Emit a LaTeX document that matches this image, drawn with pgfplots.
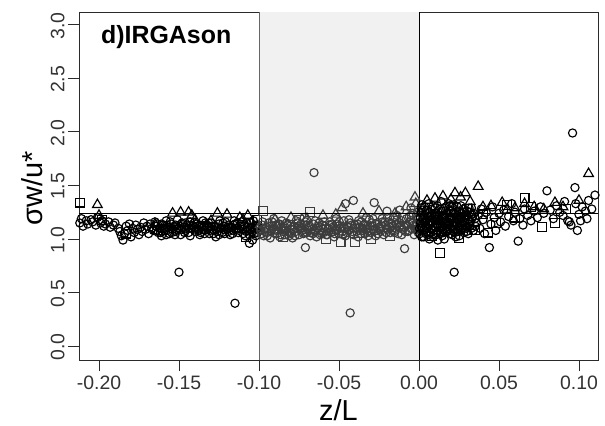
\documentclass[border=0pt]{standalone}
\usepackage{fontspec}
\setmainfont{Liberation Sans}
\usepackage{pgfplots}
\pgfplotsset{compat=1.18}
\usepackage{pgfplotstable}
\definecolor{bandgray}{HTML}{F1F1F1}
\definecolor{midg}{HTML}{3C3C3C}
\definecolor{framec}{HTML}{2A2A2A}

% black circles, x < -0.1
\pgfplotstableread{
x y
-0.212 1.15
-0.211 1.19
-0.210 1.12
-0.208 1.17
-0.207 1.14
-0.205 1.18
-0.204 1.16
-0.202 1.13
-0.201 1.20
-0.199 1.15
-0.198 1.17
-0.197 1.12
-0.196 1.14
-0.194 1.16
-0.193 1.11
-0.191 1.13
-0.190 1.15
-0.188 1.10
-0.187 1.07
-0.186 1.03
-0.185 0.99
-0.184 1.05
-0.183 1.12
-0.182 1.08
-0.181 1.14
-0.180 1.02
-0.179 1.10
-0.178 1.06
-0.177 1.13
-0.176 1.09
-0.175 1.04
-0.174 1.11
-0.173 1.07
-0.172 1.15
-0.171 1.09
-0.170 1.12
-0.169 1.05
-0.168 1.14
-0.167 1.10
-0.166 1.08
-0.165 1.16
-0.164 1.12
-0.163 1.06
-0.162 1.10
-0.161 1.03
-0.160 1.13
-0.159 1.08
-0.158 1.17
-0.157 1.11
-0.156 1.05
-0.155 1.14
-0.154 1.09
-0.153 1.12
-0.152 1.07
-0.151 1.18
-0.150 1.10
-0.149 1.04
-0.148 1.15
-0.147 1.11
-0.146 1.08
-0.145 1.13
-0.144 1.06
-0.143 1.16
-0.142 1.10
-0.141 1.12
-0.140 1.07
-0.139 1.14
-0.138 1.09
-0.137 1.04
-0.136 1.11
-0.135 1.17
-0.134 1.08
-0.133 1.13
-0.132 1.10
-0.131 1.05
-0.130 1.15
-0.129 1.09
-0.128 1.12
-0.127 1.02
-0.126 1.07
-0.125 1.14
-0.124 1.10
-0.123 1.06
-0.122 1.12
-0.121 1.16
-0.120 1.09
-0.119 1.13
-0.118 1.04
-0.117 1.11
-0.116 1.08
-0.115 1.14
-0.114 1.10
-0.113 1.06
-0.112 1.12
-0.111 1.16
-0.110 1.09
-0.109 1.13
-0.108 1.07
-0.107 1.11
-0.106 1.04
-0.105 1.15
-0.104 0.99
-0.103 1.08
-0.102 1.12
-0.101 1.06
-0.164 1.08
-0.161 1.14
-0.158 1.04
-0.155 1.10
-0.152 1.13
-0.149 1.09
-0.146 1.15
-0.143 1.03
-0.140 1.11
-0.137 1.13
-0.134 1.05
-0.131 1.12
-0.128 1.08
-0.125 1.04
-0.122 1.09
-0.119 1.07
-0.116 1.13
-0.113 1.10
-0.110 1.05
-0.107 1.08
-0.104 1.11
-0.102 1.03
-0.101 1.10
-0.103 1.05
-0.106 0.96
-0.1645 1.12
-0.1615 1.06
-0.1585 1.10
-0.1555 1.16
-0.1525 1.04
-0.1495 1.12
-0.1465 1.06
-0.1435 1.10
-0.1405 1.15
-0.1375 1.08
-0.1345 1.12
-0.1315 1.15
-0.1285 1.05
-0.1255 1.10
-0.1225 1.15
-0.1195 1.11
-0.1165 1.05
-0.1135 1.15
-0.1105 1.12
-0.1075 1.15
-0.1045 1.07
-0.1015 1.13
-0.1035 1.17
-0.1055 1.10
-0.1085 1.03
-0.1125 1.08
-0.1155 1.17
-0.1185 1.10
-0.1215 1.05
-0.1245 1.17
-0.1275 1.12
-0.1305 1.08
-0.1335 1.15
-0.1365 1.06
-0.1395 1.09
-0.1425 1.13
-0.1455 1.10
-0.1485 1.14
-0.1515 1.09
-0.1545 1.06
-0.1575 1.13
-0.1605 1.10
-0.1635 1.14
-0.150 0.69
-0.115 0.40
}\leftcirc

\pgfplotstableread{
x y
-0.201 1.32
-0.200 1.22
-0.154 1.24
-0.149 1.25
-0.144 1.25
-0.142 1.22
-0.126 1.24
-0.120 1.23
-0.112 1.20
-0.107 1.22
-0.165 1.14
-0.140 1.18
-0.130 1.17
-0.110 1.18
}\lefttri

\pgfplotstableread{
x y
-0.212 1.34
-0.198 1.18
-0.183 1.05
-0.160 1.08
-0.135 1.12
-0.108 1.02
-0.101 1.18
}\leftsq

% grey region
\pgfplotstableread{
x y
-0.099 1.08
-0.098 1.13
-0.097 1.03
-0.096 1.10
-0.095 1.06
-0.094 1.15
-0.093 1.01
-0.092 1.09
-0.091 1.12
-0.090 1.05
-0.089 1.08
-0.088 1.14
-0.087 1.02
-0.086 1.11
-0.085 1.07
-0.084 1.04
-0.083 1.10
-0.082 1.13
-0.081 1.06
-0.080 1.09
-0.079 1.01
-0.078 1.12
-0.077 1.07
-0.076 1.15
-0.075 1.04
-0.074 1.10
-0.073 1.08
-0.072 1.13
-0.071 0.92
-0.070 1.06
-0.069 1.11
-0.068 1.03
-0.067 1.09
-0.066 1.14
-0.065 1.07
-0.064 1.02
-0.063 1.12
-0.062 1.08
-0.061 1.05
-0.060 1.10
-0.059 1.16
-0.058 1.04
-0.057 1.09
-0.056 1.13
-0.055 1.06
-0.054 1.11
-0.053 1.02
-0.052 1.08
-0.051 1.14
-0.050 1.05
-0.049 1.10
-0.048 1.07
-0.047 1.17
-0.046 1.03
-0.045 1.12
-0.044 1.08
-0.043 1.15
-0.042 1.05
-0.041 1.10
-0.040 1.13
-0.039 1.07
-0.038 1.02
-0.037 1.11
-0.036 1.16
-0.035 1.08
-0.034 1.05
-0.033 1.13
-0.032 1.10
-0.031 1.18
-0.030 1.06
-0.029 1.12
-0.028 1.09
-0.027 1.03
-0.026 1.15
-0.025 1.11
-0.024 1.07
-0.023 1.19
-0.022 1.04
-0.021 1.13
-0.020 1.09
-0.019 1.16
-0.018 1.06
-0.017 1.12
-0.016 1.20
-0.015 1.08
-0.014 1.14
-0.013 1.05
-0.012 1.11
-0.011 1.17
-0.010 1.09
-0.009 0.91
-0.008 1.13
-0.007 1.07
-0.006 1.21
-0.005 1.10
-0.004 1.15
-0.003 1.04
-0.002 1.12
-0.001 1.18
-0.0985 1.05
-0.0955 1.11
-0.0925 1.07
-0.0895 1.13
-0.0865 1.04
-0.0835 1.08
-0.0805 1.12
-0.0775 1.03
-0.0745 1.09
-0.0715 1.06
-0.0685 1.12
-0.0655 1.08
-0.0625 1.15
-0.0595 1.06
-0.0565 1.10
-0.0535 1.07
-0.0505 1.12
-0.0475 1.04
-0.0445 1.11
-0.0415 1.07
-0.0385 1.14
-0.0355 1.10
-0.0325 1.06
-0.0295 1.15
-0.0265 1.08
-0.0235 1.12
-0.0205 1.06
-0.0175 1.15
-0.0145 1.10
-0.0115 1.13
-0.0085 1.07
-0.0055 1.16
-0.0025 1.09
-0.0015 1.22
-0.0005 1.06
-0.0992 1.11
-0.0962 1.07
-0.0932 1.12
-0.0902 1.09
-0.0872 1.14
-0.0842 1.12
-0.0812 1.03
-0.0782 1.09
-0.0752 1.12
-0.0722 1.05
-0.0692 1.08
-0.0662 1.05
-0.0632 1.10
-0.0602 1.13
-0.0572 1.04
-0.0542 1.14
-0.0512 1.09
-0.0482 1.12
-0.0452 1.06
-0.0422 1.13
-0.0392 1.10
-0.0362 1.05
-0.0332 1.09
-0.0302 1.12
-0.0272 1.14
-0.0242 1.10
-0.0212 1.16
-0.0182 1.11
-0.0152 1.06
-0.0122 1.15
-0.0092 1.11
-0.0062 1.08
-0.0032 1.13
-0.0012 1.09
-0.0978 1.16
-0.0948 1.03
-0.0918 1.16
-0.0888 1.05
-0.0858 1.17
-0.0828 1.15
-0.0798 1.05
-0.0768 1.17
-0.0738 1.14
-0.0708 1.16
-0.0678 1.06
-0.0648 1.17
-0.0618 1.04
-0.0588 1.12
-0.0558 1.16
-0.0528 1.05
-0.0498 1.16
-0.0468 1.10
-0.0438 1.18
-0.0408 1.04
-0.0378 1.17
-0.0348 1.13
-0.0318 1.03
-0.0288 1.19
-0.0258 1.05
-0.0228 1.16
-0.0198 1.20
-0.0168 1.08
-0.0138 1.18
-0.0108 1.04
-0.0078 1.19
-0.0048 1.22
-0.0018 1.14
-0.0008 1.25
-0.0038 1.24
-0.0138 1.22
-0.0328 1.20
-0.0518 1.19
-0.0718 1.20
-0.0908 1.19
-0.0656 1.62
-0.043 0.31
-0.041 1.36
-0.028 1.34
-0.046 1.33
-0.020 1.26
-0.012 1.27
-0.005 1.29
}\midcirc

\pgfplotstableread{
x y
-0.0025 1.39
-0.048 1.29
-0.090 1.18
-0.080 1.20
-0.060 1.22
-0.035 1.24
-0.025 1.26
-0.015 1.24
-0.008 1.30
-0.002 1.33
-0.070 1.19
-0.052 1.23
}\midtri

\pgfplotstableread{
x y
-0.0975 1.26
-0.068 1.25
-0.049 0.97
-0.040 0.97
-0.085 1.02
-0.030 1.00
-0.018 1.03
-0.058 1.00
-0.075 1.18
-0.010 1.20
}\midsq

% black, x > 0
\pgfplotstableread{
x y
0.0005 1.05
0.001 1.15
0.0015 1.25
0.002 1.10
0.0025 1.20
0.003 1.02
0.0035 1.30
0.004 1.12
0.0045 1.18
0.005 1.07
0.0055 1.24
0.006 1.14
0.0065 1.00
0.007 1.21
0.0075 1.09
0.008 1.28
0.0085 1.16
0.009 1.04
0.0095 1.23
0.010 1.11
0.0105 1.19
0.011 1.06
0.0115 1.31
0.012 1.13
0.0125 1.22
0.013 1.08
0.0135 1.17
0.014 1.26
0.0145 1.03
0.015 1.20
0.0155 1.12
0.016 1.29
0.0165 1.07
0.017 1.16
0.0175 1.24
0.018 1.10
0.0185 1.33
0.019 1.14
0.0195 1.05
0.020 1.21
0.0205 1.18
0.021 1.27
0.0215 1.09
0.022 1.15
0.0225 1.23
0.023 1.02
0.0235 1.19
0.024 1.30
0.0245 1.11
0.025 1.17
0.0255 1.25
0.026 1.08
0.0265 1.20
0.027 1.13
0.0275 1.28
0.028 1.06
0.0285 1.22
0.029 1.15
0.0295 1.10
0.030 1.26
0.031 1.18
0.032 1.12
0.033 1.23
0.034 1.08
0.035 1.19
0.0008 1.20
0.0028 1.08
0.0048 1.27
0.0068 1.13
0.0088 1.02
0.0108 1.24
0.0128 1.15
0.0148 1.09
0.0168 1.30
0.0188 1.20
0.0208 1.04
0.0228 1.16
0.0248 1.26
0.0268 1.10
0.0288 1.18
0.0308 1.05
0.0328 1.29
0.0018 1.32
0.0058 1.04
0.0098 1.17
0.0138 1.35
0.0178 1.12
0.0218 1.32
0.0258 1.14
0.0298 1.22
0.0118 0.99
0.0158 1.00
0.0198 1.26
0.0038 1.22
0.0078 1.17
0.0012 1.12
0.0042 1.16
0.0072 1.06
0.0102 1.29
0.0132 1.11
0.0162 1.21
0.0192 1.09
0.0222 1.19
0.0252 1.03
0.0282 1.25
0.0312 1.14
0.0022 1.27
0.0062 1.33
0.0112 1.14
0.0152 1.26
0.0212 1.12
0.0262 1.31
0.0322 1.16
0.0342 1.24
0.0352 1.12
0.0003 1.10
0.0033 1.16
0.0063 1.25
0.0093 1.08
0.0123 1.19
0.0153 1.06
0.0183 1.16
0.0213 1.24
0.0243 1.07
0.0273 1.17
0.0303 1.11
0.0333 1.20
0.0017 1.02
0.0047 1.10
0.0077 1.23
0.0107 1.04
0.0137 1.28
0.0167 1.13
0.0197 1.19
0.0227 1.09
0.0257 1.21
0.0287 1.13
0.0317 1.25
0.0027 1.18
0.0057 1.21
0.0087 1.31
0.0117 1.17
0.0147 1.22
0.0177 1.07
0.0207 1.30
0.0237 1.14
0.0267 1.24
0.0297 1.07
0.0327 1.10
0.0013 1.29
0.0043 1.05
0.0073 1.15
0.0103 1.21
0.0133 1.05
0.0163 1.17
0.0193 1.31
0.0223 1.06
0.0253 1.18
0.0283 1.20
0.0313 1.29
0.036 1.15
0.037 1.22
0.038 1.10
0.039 1.28
0.040 1.18
0.041 1.05
0.042 1.25
0.044 0.92
0.045 1.14
0.046 1.30
0.047 1.20
0.048 1.08
0.050 1.24
0.051 1.16
0.053 1.27
0.054 1.12
0.056 1.21
0.058 1.33
0.059 1.17
0.060 1.25
0.062 0.98
0.063 1.19
0.065 1.13
0.066 1.28
0.068 1.22
0.070 1.17
0.072 1.26
0.074 1.20
0.076 1.30
0.078 1.24
0.080 1.45
0.082 1.27
0.084 1.19
0.086 1.31
0.088 1.25
0.090 1.22
0.091 1.35
0.093 1.17
0.094 1.16
0.095 1.13
0.096 1.99
0.0975 1.48
0.098 1.33
0.099 1.08
0.100 1.23
0.101 1.17
0.102 1.30
0.104 1.26
0.105 1.19
0.106 1.36
0.108 1.28
0.110 1.41
0.022 0.69
}\rightcirc

\pgfplotstableread{
x y
0.037 1.49
0.0225 1.43
0.029 1.43
0.005 1.36
0.010 1.38
0.015 1.40
0.020 1.37
0.026 1.39
0.032 1.35
0.045 1.31
0.052 1.34
0.060 1.29
0.066 1.33
0.072 1.30
0.078 1.28
0.085 1.34
0.090 1.30
0.100 1.36
0.106 1.61
0.040 1.30
0.055 1.27
}\righttri

\pgfplotstableread{
x y
0.013 0.87
0.043 1.06
0.077 1.11
0.066 1.38
0.055 1.32
0.048 1.15
0.035 1.08
0.025 1.01
0.008 1.03
0.060 1.20
0.070 1.30
0.085 1.15
0.092 1.28
0.040 1.23
0.030 1.28
}\rightsq

\begin{document}
\begin{tikzpicture}
\useasboundingbox (-79bp,-66bp) rectangle (526bp,360bp);
\begin{axis}[
  scale only axis,
  width=519bp, height=348bp,
  at={(0,0)}, anchor=south west,
  xmin=-0.2125, xmax=0.1119,
  ymin=-0.13, ymax=3.12,
  axis line style={draw=framec, line width=0.9bp},
  tick pos=left,
  tick align=outside,
  major tick length=11bp,
  tick style={draw=framec, line width=0.9bp},
  xtick={-0.2,-0.15,-0.1,-0.05,0,0.05,0.1},
  xticklabels={-0.20,-0.15,-0.10,-0.05,0.00,0.05,0.10},
  ytick={0,0.5,1,1.5,2,2.5,3},
  yticklabels={0.0,0.5,1.0,1.5,2.0,2.5,3.0},
  ticklabel style={font=\fontsize{19.5}{20}\selectfont, text=black!80},
  xticklabel style={anchor=north, yshift=-1bp},
  yticklabel style={rotate=90, anchor=south, xshift=-1bp},
  clip mode=individual,
  circ/.style={only marks, mark=o, mark size=4.1bp, mark options={line width=1.15bp}},
  tri/.style={only marks, mark=triangle, mark size=5.6bp, mark options={line width=1.15bp}},
  sq/.style={only marks, mark=square, mark size=4.4bp, mark options={line width=1.15bp}},
]
\fill[bandgray] (axis cs:-0.1,-0.13) rectangle (axis cs:0,3.12);
\addplot[draw=black!60, line width=0.8bp, no marks] coordinates {(-0.1,-0.13) (-0.1,3.12)};
\addplot[draw=black, line width=0.9bp, no marks] coordinates {(0,-0.13) (0,3.12)};

\addplot[circ, black] table {\leftcirc};
\addplot[tri, black] table {\lefttri};
\addplot[sq, black] table {\leftsq};
\addplot[circ, midg] table {\midcirc};
\addplot[tri, midg] table {\midtri};
\addplot[sq, midg] table {\midsq};
\addplot[circ, black] table {\rightcirc};
\addplot[tri, black] table {\righttri};
\addplot[sq, black] table {\rightsq};

\addplot[draw=black, line width=0.9bp, no marks] coordinates {(-0.2125,1.24) (0.1119,1.24)};

\node[anchor=west, font=\fontsize{25}{27}\selectfont\bfseries] at (rel axis cs:0.036,0.928) {d)IRGAson};
\end{axis}
\node[rotate=90, font=\fontsize{29}{30}\selectfont] at (-47bp,172bp) {σw/u*};
\node[anchor=base, inner sep=0pt, font=\fontsize{29}{30}\selectfont] at (259.5bp,-60bp) {z/L};
\end{tikzpicture}
\end{document}
